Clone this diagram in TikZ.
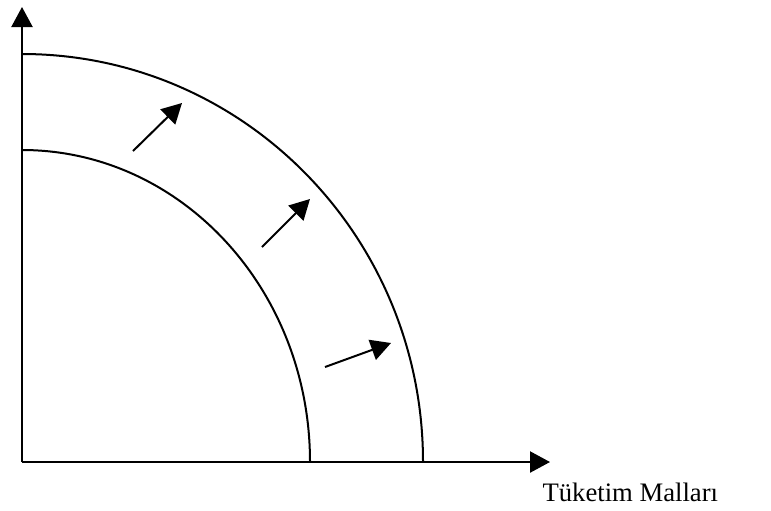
\documentclass[tikz,border=0pt]{standalone}
\usepackage{fontspec}
\setmainfont{Liberation Serif}
\usetikzlibrary{positioning, arrows.meta}

\begin{document}
\begin{tikzpicture}[x=0.375pt, y=0.375pt, >={Triangle[length=7.5pt, width=7.9pt]},
  axis/.style={line width=0.75pt, ->},
  curve/.style={line width=0.75pt},
  shiftarrow/.style={line width=0.75pt, ->}]
  \useasboundingbox (0,0) rectangle (771,510);
  \coordinate (O) at (22,48);
  \coordinate (ytop) at (22,503);
  \coordinate (xend) at (550,48);
  \coordinate (in0) at (22,360);
  \coordinate (out0) at (22,456);
  \draw[axis] (O) -- (ytop);
  \draw[axis] (O) -- (xend);
  \draw[curve] (in0) arc[start angle=90, end angle=0, x radius=288, y radius=312];
  \draw[curve] (out0) arc[start angle=90, end angle=0, x radius=401, y radius=408];
  % shift of the curve
  \coordinate (a1) at (133,359);
  \coordinate (b1) at (182,407);
  \coordinate (a2) at (262,263);
  \coordinate (b2) at (310,311);
  \coordinate (a3) at (325,143);
  \coordinate (b3) at (391,167);
  \draw[shiftarrow] (a1) -- (b1);
  \draw[shiftarrow] (a2) -- (b2);
  \draw[shiftarrow] (a3) -- (b3);
  \node[anchor=base west, inner sep=0pt] (xlab) at (542,9) {Tüketim Malları};
\end{tikzpicture}
\end{document}
